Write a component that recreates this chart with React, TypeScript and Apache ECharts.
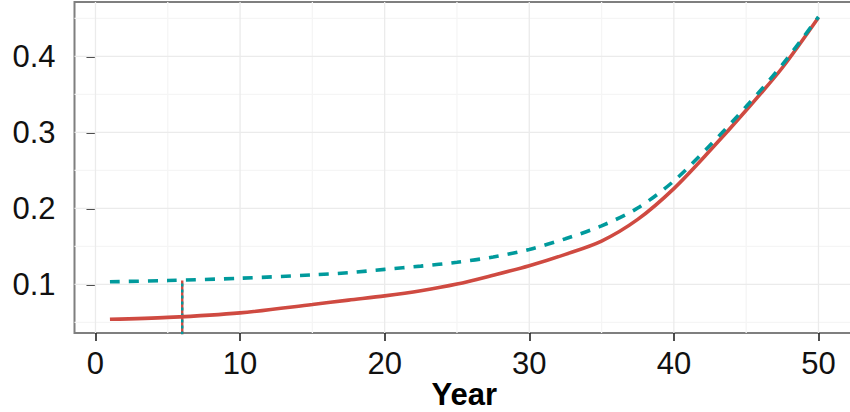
import React, { useEffect, useRef } from "react";
import * as echarts from "echarts";

// Data
const years = [1, 5, 10, 15, 17.5, 20, 22.5, 25, 27.5, 30, 32.5, 35, 37.5, 40, 42.5, 45, 47.5, 50];
const solidValues = [0.054, 0.0565, 0.0625, 0.0735, 0.0793, 0.0848, 0.0916, 0.1004, 0.112, 0.1245, 0.1395, 0.157, 0.1855, 0.226, 0.276, 0.329, 0.385, 0.451];
const dashedValues = [0.1034, 0.105, 0.108, 0.1125, 0.1153, 0.1197, 0.124, 0.129, 0.136, 0.146, 0.160, 0.177, 0.2004, 0.236, 0.283, 0.334, 0.389, 0.452];
const markerYear = 6;
const markerTop = 0.105;

const xMajorTicks = [0, 10, 20, 30, 40, 50];
const xMinorTicks = [5, 15, 25, 35, 45];
const yMajorTicks = [0.1, 0.2, 0.3, 0.4];
const yMinorTicks = [0.05, 0.15, 0.25, 0.35, 0.45];

const xMin = -1.45;
const xMax = 52.45;
const yMin = 0.036;
const yMax = 0.4715;

const RED = "#CF4A41";
const TEAL = "#009A9C";

export default function App() {
  const ref = useRef<HTMLDivElement>(null);
  useEffect(() => {
    document.body.style.margin = "0";
    const chart = echarts.init(ref.current!, undefined, { renderer: "svg" });

    const gridSeries: any[] = [];
    const addV = (x: number, color: string) =>
      gridSeries.push({
        type: "line", silent: true, symbol: "none", z: 1,
        data: [[x, yMin], [x, yMax]],
        lineStyle: { color, width: 1.3 },
      });
    const addH = (y: number, color: string) =>
      gridSeries.push({
        type: "line", silent: true, symbol: "none", z: 1,
        data: [[xMin, y], [xMax, y]],
        lineStyle: { color, width: 1.3 },
      });
    xMinorTicks.forEach((x) => addV(x, "#F5F5F5"));
    yMinorTicks.forEach((y) => addH(y, "#F5F5F5"));
    xMajorTicks.forEach((x) => addV(x, "#EBEBEB"));
    yMajorTicks.forEach((y) => addH(y, "#EBEBEB"));

    const font = "'Liberation Sans', Arial, sans-serif";

    chart.setOption({
      animation: false,
      grid: {
        left: 74.5, width: 779.4, top: 2, bottom: 79,
        outerBoundsMode: "none", containLabel: false,
        show: true, borderColor: "#7F7F7F", borderWidth: 2, backgroundColor: "#fff",
      },
      xAxis: {
        type: "value", min: xMin, max: xMax,
        name: "Year", nameLocation: "middle", nameGap: 44, nameMoveOverlap: false,
        nameTextStyle: { fontFamily: font, fontSize: 31, lineHeight: 34, fontWeight: "bold", color: "#000" },
        axisLine: { show: false },
        splitLine: { show: false },
        axisTick: { show: true, length: 8, lineStyle: { color: "#222", width: 1.6 }, customValues: xMajorTicks },
        axisLabel: { show: true, margin: 15, fontFamily: font, fontSize: 31, color: "#111", customValues: xMajorTicks },
      },
      yAxis: {
        type: "value", min: yMin, max: yMax,
        axisLine: { show: false },
        splitLine: { show: false },
        axisTick: { show: true, length: 9, lineStyle: { color: "#222", width: 1.6 }, customValues: yMajorTicks },
        axisLabel: {
          show: true, margin: 19, fontFamily: font, fontSize: 31, color: "#111",
          customValues: yMajorTicks, formatter: (v: number) => v.toFixed(1),
        },
      },
      series: [
        ...gridSeries,
        {
          type: "line", silent: true, symbol: "none", z: 3,
          data: [[markerYear, yMin - 0.01], [markerYear, markerTop]],
          lineStyle: { color: RED, width: 2.4 },
        },
        {
          type: "line", silent: true, symbol: "none", z: 4,
          data: [[markerYear, yMin - 0.01], [markerYear, markerTop]],
          lineStyle: { color: TEAL, width: 2.4, type: [3, 3], cap: "butt" },
        },
        {
          type: "line", silent: true, symbol: "none", z: 5, smooth: 0.3,
          data: years.map((y, i) => [y, solidValues[i]]),
          lineStyle: { color: RED, width: 3.6 },
        },
        {
          type: "line", silent: true, symbol: "none", z: 6, smooth: 0.3,
          data: years.map((y, i) => [y, dashedValues[i]]),
          lineStyle: { color: TEAL, width: 3.6, type: [10, 9], cap: "butt" },
        },
      ],
    });
    return () => chart.dispose();
  }, []);
  return <div ref={ref} style={{ width: 850, height: 412 }} />;
}
